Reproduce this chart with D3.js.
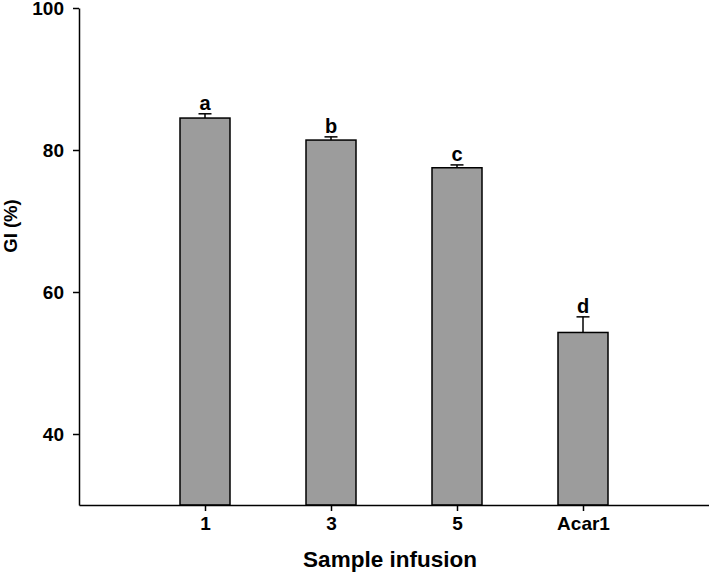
<!DOCTYPE html>
<html>
<head>
<meta charset="utf-8">
<script src="https://cdn.jsdelivr.net/npm/d3@7"></script>
<style>
body{margin:0;background:#fff}
svg text{font-family:"Liberation Sans",Arial,sans-serif;font-weight:bold;fill:#000}
</style>
</head>
<body>
<svg></svg>
<script>
// values
var categories=["1","3","5","Acar1"]
var gi=[84.5,81.4,77.5,54.3]
var errs=[0.6,0.45,0.4,2.2]
var letters=["a","b","c","d"]
var yTicks=[40,60,80,100]

var screen={width:709,height:574}
var margins={top:8,right:0,bottom:69,left:79}

var width=screen.width-margins.left-margins.right
var height=screen.height-margins.top-margins.bottom

var svg=d3.select("svg")
    .attr("width",screen.width)
    .attr("height",screen.height)

var graph=svg.append("g")
    .attr("id","graph")
    .attr("transform","translate("+margins.left+","+margins.top+")")

var xScale=d3.scalePoint()
    .domain(categories)
    .range([0,width])
    .padding(1)

var yScale=d3.scaleLinear()
    .domain([30,100])
    .range([height,0])

var barW=50

// bars
graph.selectAll("rect.bar")
    .data(gi)
    .enter()
    .append("rect")
    .attr("class","bar")
    .attr("x",function(d,i){return xScale(categories[i])-barW/2})
    .attr("y",function(d){return yScale(d)})
    .attr("width",barW)
    .attr("height",function(d){return height-yScale(d)})
    .attr("fill","#9c9c9c")
    .attr("stroke","#000")
    .attr("stroke-width",1.5)

// upper error bars
var eb=graph.selectAll("g.err")
    .data(gi)
    .enter()
    .append("g")
    .attr("class","err")

eb.append("line")
    .attr("x1",function(d,i){return xScale(categories[i])})
    .attr("x2",function(d,i){return xScale(categories[i])})
    .attr("y1",function(d){return yScale(d)})
    .attr("y2",function(d,i){return yScale(d+errs[i])})
    .attr("stroke","#000")
    .attr("stroke-width",1.5)

eb.append("line")
    .attr("x1",function(d,i){return xScale(categories[i])-6.5})
    .attr("x2",function(d,i){return xScale(categories[i])+6.5})
    .attr("y1",function(d,i){return yScale(d+errs[i])})
    .attr("y2",function(d,i){return yScale(d+errs[i])})
    .attr("stroke","#000")
    .attr("stroke-width",1.5)

// significance letters
graph.selectAll("text.letter")
    .data(gi)
    .enter()
    .append("text")
    .attr("class","letter")
    .attr("x",function(d,i){return xScale(categories[i])})
    .attr("y",function(d,i){return yScale(d+errs[i])-4})
    .attr("text-anchor","middle")
    .style("font-size","20px")
    .text(function(d,i){return letters[i]})

// axes
var xAxis=d3.axisBottom(xScale).tickSize(6).tickPadding(6).tickSizeOuter(0)
var yAxis=d3.axisLeft(yScale).tickValues(yTicks).tickSize(6).tickPadding(9).tickSizeOuter(0)

var gx=graph.append("g")
    .attr("transform","translate(0,"+height+")")
    .call(xAxis)
var gy=graph.append("g")
    .call(yAxis)

svg.selectAll(".domain").attr("stroke","#000").attr("stroke-width",1.5)
svg.selectAll(".tick line").attr("stroke","#000").attr("stroke-width",1.5)
svg.selectAll(".tick text")
    .style("font-size","19px")
    .style("font-family","'Liberation Sans',Arial,sans-serif")
    .style("font-weight","bold")
    .attr("fill","#000")
gy.selectAll(".tick text").attr("dy","0.36em")

// titles
svg.append("text")
    .attr("x",margins.left+width/2-4)
    .attr("y",567)
    .attr("text-anchor","middle")
    .style("font-size","22.5px")
    .text("Sample infusion")

svg.append("text")
    .attr("transform","translate(17,226) rotate(-90)")
    .attr("text-anchor","middle")
    .style("font-size","18.5px")
    .text("GI (%)")
</script>
</body>
</html>
